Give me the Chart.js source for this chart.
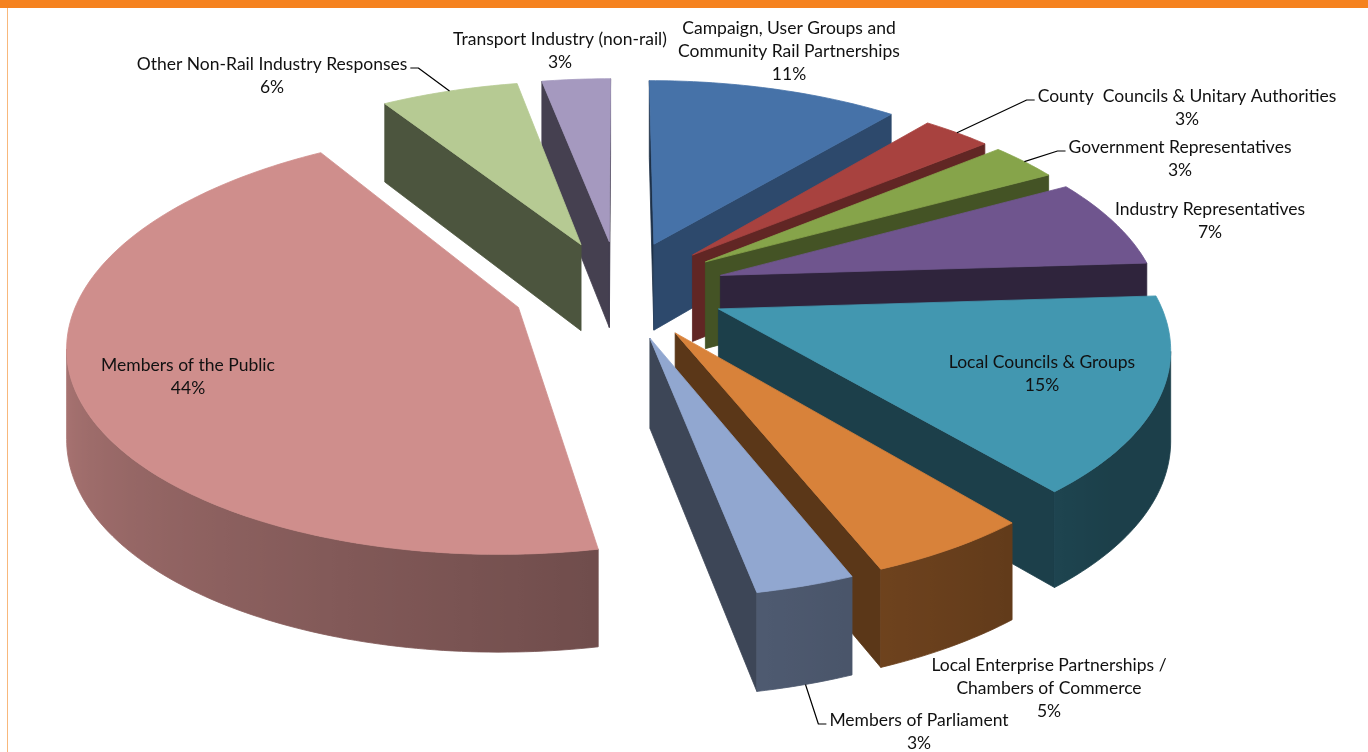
<!DOCTYPE html>
<html>
<head>
<meta charset="utf-8">
<script src="https://cdn.jsdelivr.net/npm/chart.js@4.4.1/dist/chart.umd.min.js"></script>
<style>
html, body { margin: 0; padding: 0; background: #fff; }
#wrap { position: relative; width: 1368px; height: 752px; overflow: hidden; }
#wrap canvas { position: absolute; left: 0; top: 0; }
#topbar { position: absolute; left: 0; top: 0; width: 1368px; height: 8px; background: #f5821f; }
#leftline { position: absolute; left: 7px; top: 8px; width: 1px; height: 744px; background: #f8b87c; }
</style>
</head>
<body>
<div id="wrap">
  <canvas id="chart" width="1368" height="752"></canvas>
  <div id="topbar"></div>
  <div id="leftline"></div>
</div>
<script>
// consultation responses by respondent type
const categories = [
  'Campaign, User Groups and\nCommunity Rail Partnerships',
  'County  Councils & Unitary Authorities',
  'Government Representatives',
  'Industry Representatives',
  'Local Councils & Groups',
  'Local Enterprise Partnerships /\nChambers of Commerce',
  'Members of Parliament',
  'Members of the Public',
  'Other Non-Rail Industry Responses',
  'Transport Industry (non-rail)'
];
const shares = [11, 3, 3, 7, 15, 5, 3, 44, 6, 3];
const sliceColours = ['#4672a8', '#a8423f', '#86a44a', '#6f558e', '#4297b0',
                      '#d8823a', '#91a7d0', '#cf8e8c', '#b6ca93', '#a599bf'];

// where each label sits (centre of its first line) and whether it has a leader line
const labelLayout = [
  {x: 789, y: 28},
  {x: 1187, y: 96, leader: 'left', anchor: 'top'},
  {x: 1180, y: 147, leader: 'left', anchor: 'top'},
  {x: 1210, y: 209},
  {x: 1042, y: 362},
  {x: 1049, y: 665},
  {x: 919, y: 720, leader: 'left', anchor: 'bottom'},
  {x: 188, y: 365},
  {x: 272, y: 64, leader: 'right', anchor: 'top'},
  {x: 560, y: 39}
];

// perspective view of the pie: unit radius in pie space -> pixels
const VIEW = {cx: 619, cy: 289, sx: 437, sy: 202, dist: 6.4, depth: 88, depthSlope: 9};

function project(X, Y, down) {
  const f = VIEW.dist / (VIEW.dist - Y);
  return {
    x: VIEW.cx + X * VIEW.sx * f,
    y: VIEW.cy + Y * VIEW.sy * f + (down ? VIEW.depth + VIEW.depthSlope * Y : 0)
  };
}

function shade(hex, k) {
  const n = parseInt(hex.slice(1), 16);
  const r = Math.min(255, Math.round(((n >> 16) & 255) * k));
  const g = Math.min(255, Math.round(((n >> 8) & 255) * k));
  const b = Math.min(255, Math.round((n & 255) * k));
  return 'rgb(' + r + ',' + g + ',' + b + ')';
}

function polyArea(pts) {
  let s = 0;
  for (let i = 0; i < pts.length; i++) {
    const p = pts[i], q = pts[(i + 1) % pts.length];
    s += p.x * q.y - q.x * p.y;
  }
  return s / 2;
}

function fillPoly(ctx, pts, style) {
  ctx.beginPath();
  ctx.moveTo(pts[0].x, pts[0].y);
  for (let i = 1; i < pts.length; i++) ctx.lineTo(pts[i].x, pts[i].y);
  ctx.closePath();
  ctx.fillStyle = style;
  ctx.fill();
  ctx.strokeStyle = style;
  ctx.lineWidth = 0.8;
  ctx.lineJoin = 'round';
  ctx.stroke();
}

const clamp = (v, lo, hi) => Math.max(lo, Math.min(hi, v));
const deg = r => r * 180 / Math.PI;

// lighting of the curved rim: brighter towards the left
function rimFactor(a) {
  let d = deg(a) % 360;
  if (d < 0) d += 360;
  if (d > 270) d -= 360;
  return 0.42 + 0.43 * clamp((d - 40) / 140, 0, 1);
}

// lighting of a flat side face from the direction it faces
function sideFactor(n) {
  let d = deg(n) % 360;
  if (d < 0) d += 360;
  return 0.42 + 0.22 * clamp((75 - d) / 35, 0, 1);
}

const pie3d = {
  id: 'pie3d',
  beforeDatasetsDraw(chart) {
    const ctx = chart.ctx;
    const meta = chart.getDatasetMeta(0);
    const slices = meta.data.map((arc, i) => {
      const s = arc.startAngle, e = arc.endAngle;
      const mid = (s + e) / 2;
      const ex = (arc.options.offset || 0) / arc.outerRadius;
      return {i, s, e, mid, ox: ex * Math.cos(mid), oy: ex * Math.sin(mid)};
    });
    const anchors = [];
    slices.forEach(sl => {
      const px = sl.ox + Math.cos(sl.mid), py = sl.oy + Math.sin(sl.mid);
      anchors[sl.i] = {top: project(px, py, false), bottom: project(px, py, true)};
    });
    chart.$anchors = anchors;

    slices.slice().sort((a, b) => Math.sin(a.mid) - Math.sin(b.mid)).forEach(sl => {
      const base = sliceColours[sl.i];
      const steps = Math.max(4, Math.ceil(deg(sl.e - sl.s)));
      const angles = [], tops = [], bots = [];
      for (let k = 0; k <= steps; k++) {
        const a = sl.s + (sl.e - sl.s) * k / steps;
        const X = sl.ox + Math.cos(a), Y = sl.oy + Math.sin(a);
        angles.push(a);
        tops.push(project(X, Y, false));
        bots.push(project(X, Y, true));
      }
      const tipT = project(sl.ox, sl.oy, false);
      const tipB = project(sl.ox, sl.oy, true);

      // flat faces along the two radii
      const startFace = [tipT, tipB, bots[0], tops[0]];
      if (polyArea(startFace) > 0) fillPoly(ctx, startFace, shade(base, sideFactor(sl.s - Math.PI / 2)));
      const endFace = [tipT, tops[steps], bots[steps], tipB];
      if (polyArea(endFace) > 0) fillPoly(ctx, endFace, shade(base, sideFactor(sl.e + Math.PI / 2)));

      // curved rim, drawn in runs of front-facing segments
      let k = 0;
      while (k < steps) {
        const seg = j => [tops[j + 1], tops[j], bots[j], bots[j + 1]];
        if (polyArea(seg(k)) <= 0) { k++; continue; }
        let k1 = k;
        while (k1 < steps && polyArea(seg(k1)) > 0) k1++;
        const pts = [];
        for (let j = k1; j >= k; j--) pts.push(tops[j]);
        for (let j = k; j <= k1; j++) pts.push(bots[j]);
        let xmin = Infinity, xmax = -Infinity;
        for (let j = k; j <= k1; j++) { xmin = Math.min(xmin, tops[j].x); xmax = Math.max(xmax, tops[j].x); }
        const grad = ctx.createLinearGradient(xmin, 0, xmax + 0.01, 0);
        for (let j = k; j <= k1; j++) {
          grad.addColorStop(clamp((tops[j].x - xmin) / (xmax - xmin + 0.01), 0, 1), shade(base, rimFactor(angles[j])));
        }
        fillPoly(ctx, pts, grad);
        k = k1;
      }

      // top face
      fillPoly(ctx, [tipT].concat(tops), base);
    });
    return false;
  }
};

const sliceLabels = {
  id: 'sliceLabels',
  afterDraw(chart) {
    const ctx = chart.ctx;
    const total = shares.reduce((a, b) => a + b, 0);
    const lh = 23;
    ctx.save();
    ctx.font = '17.5px Lato';
    ctx.fillStyle = '#111';
    ctx.textAlign = 'center';
    ctx.textBaseline = 'middle';
    categories.forEach((name, i) => {
      const lay = labelLayout[i];
      const lines = name.split('\n').concat([Math.round(shares[i] / total * 100) + '%']);
      lines.forEach((t, j) => ctx.fillText(t, lay.x, lay.y + j * lh));
      if (lay.leader && chart.$anchors) {
        const w = ctx.measureText(lines[0]).width;
        const ly = lay.y + 4;
        const dir = lay.leader === 'left' ? -1 : 1;
        const x0 = lay.x + dir * (w / 2 + 3);
        const x1 = x0 + dir * 8;
        const end = chart.$anchors[i][lay.anchor];
        ctx.beginPath();
        ctx.moveTo(x0, ly);
        ctx.lineTo(x1, ly);
        ctx.lineTo(end.x, end.y);
        ctx.strokeStyle = '#000';
        ctx.lineWidth = 1.2;
        ctx.stroke();
      }
    });
    ctx.restore();
  }
};

new Chart(document.getElementById('chart'), {
  type: 'pie',
  data: {
    labels: categories,
    datasets: [{
      data: shares,
      backgroundColor: sliceColours,
      borderWidth: 0,
      offset: 83
    }]
  },
  options: {
    responsive: false,
    animation: false,
    rotation: 0,
    radius: 340,
    plugins: {
      legend: {display: false},
      tooltip: {enabled: false}
    }
  },
  plugins: [pie3d, sliceLabels]
});
</script>
</body>
</html>
